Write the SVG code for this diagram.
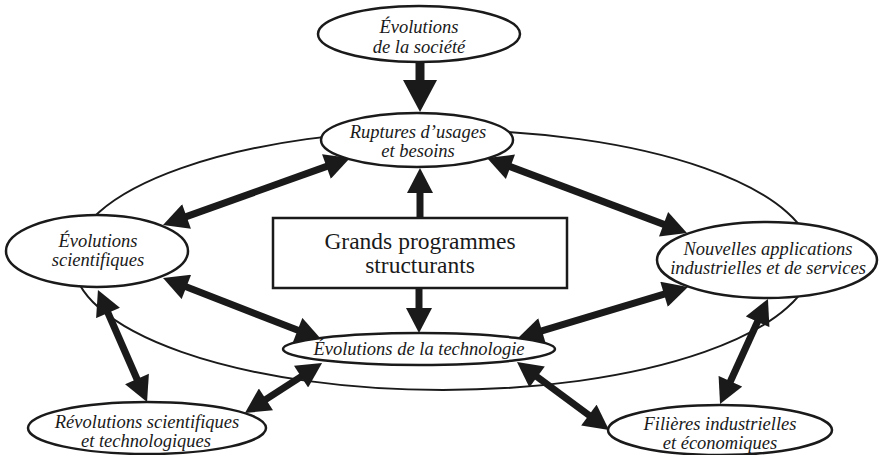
<svg xmlns="http://www.w3.org/2000/svg" width="879" height="455" viewBox="0 0 879 455">
<style>
.bg{fill:#fff}
.ring{fill:none;stroke:#1a1a1a;stroke-width:2}
.node{fill:#fff;stroke:#1a1a1a;stroke-width:2.5}
.lbl{font-family:"Liberation Serif","Times New Roman",serif;font-style:italic;font-size:18.5px;fill:#1a1a1a;text-anchor:middle}
.box{font-family:"Liberation Serif","Times New Roman",serif;font-size:23.5px;fill:#1a1a1a;text-anchor:middle}
.arr{stroke:#1a1a1a;stroke-width:7;fill:none;marker-end:url(#h)}
.dbl{marker-start:url(#h)}
</style>
<defs>
<marker id="h" markerUnits="userSpaceOnUse" markerWidth="26" markerHeight="26" refX="1" refY="13" orient="auto-start-reverse" viewBox="0 0 25 26">
<path d="M0,0 L25,13 L0,26 z" fill="#1a1a1a"/>
</marker>
<marker id="hb" markerUnits="userSpaceOnUse" markerWidth="34" markerHeight="34" refX="1" refY="17" orient="auto" viewBox="0 0 32 34">
<path d="M0,0 L32,17 L0,34 z" fill="#1a1a1a"/>
</marker>
</defs>
<rect class="bg" x="0" y="0" width="879" height="455"/>
<ellipse class="ring" cx="443" cy="260" rx="370" ry="130"/>
<g id="connectors">
<line x1="420" y1="62" x2="420" y2="81" stroke="#1a1a1a" stroke-width="9" marker-end="url(#hb)"/>
<line class="arr" x1="420" y1="218" x2="420" y2="192"/>
<line class="arr" x1="419" y1="288" x2="419" y2="309"/>
<line class="arr dbl" x1="185.6" y1="216.9" x2="327.4" y2="166.1"/>
<line class="arr dbl" x1="509.5" y1="166.4" x2="664.5" y2="224.6"/>
<line class="arr dbl" x1="185.4" y1="286.6" x2="298.6" y2="330.4"/>
<line class="arr dbl" x1="665" y1="293.9" x2="541" y2="331.1"/>
<line class="arr dbl" x1="107.6" y1="312" x2="137.4" y2="380"/>
<line class="arr dbl" x1="265.1" y1="399.9" x2="301.9" y2="376.1"/>
<line class="arr dbl" x1="536.3" y1="376.3" x2="589.7" y2="415.7"/>
<line class="arr dbl" x1="758" y1="320.8" x2="730" y2="382.2"/>
</g>
<g id="societe">
<ellipse class="node" cx="419" cy="34" rx="101" ry="28"/>
<text class="lbl" x="419" y="33">Évolutions</text>
<text class="lbl" x="419" y="53">de la société</text>
</g>
<g id="ruptures">
<ellipse class="node" cx="417" cy="140" rx="96" ry="27"/>
<text class="lbl" x="418" y="138">Ruptures d’usages</text>
<text class="lbl" x="418" y="157">et besoins</text>
</g>
<g id="evol-sci">
<ellipse class="node" cx="97" cy="251" rx="91" ry="36"/>
<text class="lbl" x="98" y="247">Évolutions</text>
<text class="lbl" x="98" y="266">scientifiques</text>
</g>
<g id="nouvelles">
<ellipse class="node" cx="767" cy="260" rx="110" ry="38"/>
<text class="lbl" x="768" y="255">Nouvelles applications</text>
<text class="lbl" x="768" y="274">industrielles et de services</text>
</g>
<g id="programmes">
<rect x="273" y="218" width="294" height="70" fill="#fff" stroke="#1a1a1a" stroke-width="2.5"/>
<text class="box" x="420" y="249">Grands programmes</text>
<text class="box" x="420" y="273">structurants</text>
</g>
<g id="technologie">
<ellipse class="node" cx="419" cy="349" rx="136" ry="16"/>
<text class="lbl" x="419" y="355">Évolutions de la technologie</text>
</g>
<g id="revolutions">
<ellipse class="node" cx="147" cy="428" rx="119" ry="26"/>
<text class="lbl" x="147" y="428">Révolutions scientifiques</text>
<text class="lbl" x="146" y="447">et technologiques</text>
</g>
<g id="filieres">
<ellipse class="node" cx="720" cy="430" rx="112" ry="25"/>
<text class="lbl" x="720" y="430">Filières industrielles</text>
<text class="lbl" x="720" y="449">et économiques</text>
</g>
</svg>
